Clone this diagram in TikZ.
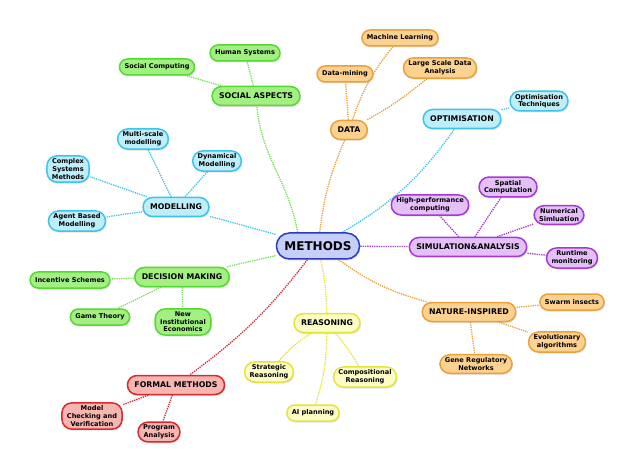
\documentclass[tikz,border=0pt]{standalone}
\usepackage{fontspec}
\setmainfont{DejaVu Sans}
\usepackage{xcolor}
\usetikzlibrary{shadows,backgrounds}

\definecolor{methfill}{HTML}{C6CEFA}
\definecolor{methline}{HTML}{2A3AC4}
\definecolor{grnfill}{HTML}{A2F082}
\definecolor{grnline}{HTML}{56D832}
\definecolor{cyanfill}{HTML}{BFEEFB}
\definecolor{cyanline}{HTML}{3CC4EA}
\definecolor{orgfill}{HTML}{FDD290}
\definecolor{orgline}{HTML}{E8A23A}
\definecolor{purfill}{HTML}{E4BFF8}
\definecolor{purline}{HTML}{A43AD6}
\definecolor{redfill}{HTML}{F8B6B2}
\definecolor{redline}{HTML}{D62A2E}
\definecolor{yelfill}{HTML}{FCFCC6}
\definecolor{yelline}{HTML}{E4E43C}

\begin{document}
\begin{tikzpicture}[x=1pt,y=-1pt,
    box/.style={rounded corners=8pt, line width=1.5pt, align=center,
      inner xsep=5pt, inner ysep=3pt, minimum height=16pt,
      drop shadow={opacity=0.22, shadow xshift=1pt, shadow yshift=-1.5pt}},
    leaf/.style={box, font=\fontsize{6.6}{7.6}\selectfont\bfseries},
    cat/.style={box, minimum height=19pt, inner xsep=7pt, rounded corners=9.5pt,
      font=\fontsize{7.8}{9}\selectfont\bfseries},
    greenish/.style={fill=grnfill, draw=grnline},
    cyanish/.style={fill=cyanfill, draw=cyanline},
    orangish/.style={fill=orgfill, draw=orgline},
    purplish/.style={fill=purfill, draw=purline},
    reddish/.style={fill=redfill, draw=redline},
    yellowish/.style={fill=yelfill, draw=yelline},
    link/.style={densely dotted, line width=1.3pt}]
    \useasboundingbox (0,0) rectangle (638,476);

    % Centre
    \node[box, fill=methfill, draw=methline, minimum height=26pt, inner xsep=8pt,
      rounded corners=13pt, font=\fontsize{12}{14}\selectfont\bfseries] (methods) at (318,246) {METHODS};

    % Branches
    \node[cat, greenish] (social) at (256,96) {SOCIAL ASPECTS};
    \node[cat, orangish] (data) at (349,130) {DATA};
    \node[cat, cyanish] (optim) at (462,119) {OPTIMISATION};
    \node[cat, cyanish] (model) at (176,207) {MODELLING};
    \node[cat, purplish] (simul) at (468,247) {SIMULATION\&ANALYSIS};
    \node[cat, greenish] (decis) at (182,277) {DECISION MAKING};
    \node[cat, orangish] (nature) at (469,312) {NATURE-INSPIRED};
    \node[cat, yellowish] (reason) at (327,323) {REASONING};
    \node[cat, reddish] (formal) at (176,385) {FORMAL METHODS};

    % Social aspects
    \node[leaf, greenish] (soccomp) at (157,67) {Social Computing};
    \node[leaf, greenish] (human) at (245,53) {Human Systems};
    % Data
    \node[leaf, orangish] (machine) at (400,38) {Machine Learning};
    \node[leaf, orangish] (mining) at (345,74) {Data-mining};
    \node[leaf, orangish, rounded corners=10pt] (large) at (440,68) {Large Scale Data\\Analysis};
    % Optimisation
    \node[leaf, cyanish, rounded corners=10pt] (opttech) at (539,101) {Optimisation\\Techniques};
    % Modelling
    \node[leaf, cyanish, rounded corners=10pt] (multi) at (143,139) {Multi-scale\\modelling};
    \node[leaf, cyanish, rounded corners=10pt] (complex) at (68,169) {Complex\\Systems\\Methods};
    \node[leaf, cyanish, rounded corners=10pt] (dynam) at (217,161) {Dynamical\\Modelling};
    \node[leaf, cyanish, rounded corners=10pt] (agent) at (77,221) {Agent Based\\Modelling};
    % Simulation
    \node[leaf, purplish, rounded corners=10pt] (hpc) at (430,205) {High-performance\\computing};
    \node[leaf, purplish, rounded corners=10pt] (spatial) at (508,187) {Spatial\\Computation};
    \node[leaf, purplish, rounded corners=10pt] (numer) at (559,215) {Numerical\\Simluation};
    \node[leaf, purplish, rounded corners=10pt] (runtime) at (572,258) {Runtime\\monitoring};
    % Decision making
    \node[leaf, greenish] (incent) at (70,280) {Incentive Schemes};
    \node[leaf, greenish] (game) at (100,317) {Game Theory};
    \node[leaf, greenish, rounded corners=10pt] (newinst) at (183,322) {New\\Institutional\\Economics};
    % Nature-inspired
    \node[leaf, orangish] (swarm) at (572,302) {Swarm insects};
    \node[leaf, orangish, rounded corners=10pt] (evol) at (557,342) {Evolutionary\\algorithms};
    \node[leaf, orangish, rounded corners=10pt] (gene) at (476,364) {Gene Regulatory\\Networks};
    % Reasoning
    \node[leaf, yellowish, rounded corners=10pt] (strat) at (269,372) {Strategic\\Reasoning};
    \node[leaf, yellowish, rounded corners=10pt] (compos) at (365,377) {Compositional\\Reasoning};
    \node[leaf, yellowish] (aiplan) at (313,413) {AI planning};
    % Formal methods
    \node[leaf, reddish, rounded corners=10pt] (checking) at (92,416) {Model\\Checking and\\Verification};
    \node[leaf, reddish, rounded corners=10pt] (program) at (159,432) {Program\\Analysis};

    \begin{scope}[on background layer]
    % Centre to branches
    \draw[link, grnline!80] (methods.north west) ++(22,0) to[out=100, in=-85] (social);
    \draw[link, orgline] (methods) to[bend left=8] (data);
    \draw[link, cyanline] (methods) to[bend right=12] (optim);
    \draw[link, cyanline] (methods) -- (model);
    \draw[link, purline] (methods) -- (simul);
    \draw[link, grnline!80] (methods) -- (decis);
    \draw[link, orgline] (methods) to[bend right=10] (nature);
    \draw[link, yelline] (methods) to[bend left=5] (reason);
    \draw[link, redline] (methods) to[bend left=8] (formal);
    % Branches to leaves
    \draw[link, grnline!80] (social) -- (soccomp);
    \draw[link, grnline!80] (social) -- (human);
    \draw[link, orgline] (data) to[bend left=10] (machine);
    \draw[link, orgline] (data) -- (mining);
    \draw[link, orgline] (data) to[bend right=5] (large);
    \draw[link, cyanline] (optim) -- (opttech);
    \draw[link, cyanline] (model) -- (multi);
    \draw[link, cyanline] (model) -- (complex);
    \draw[link, cyanline] (model) -- (dynam);
    \draw[link, cyanline] (model) -- (agent);
    \draw[link, purline] (simul) -- (hpc);
    \draw[link, purline] (simul) -- (spatial);
    \draw[link, purline] (simul) -- (numer);
    \draw[link, purline] (simul) -- (runtime);
    \draw[link, grnline!80] (decis) -- (incent);
    \draw[link, grnline!80] (decis) -- (game);
    \draw[link, grnline!80] (decis) -- (newinst);
    \draw[link, orgline] (nature) -- (swarm);
    \draw[link, orgline] (nature) -- (evol);
    \draw[link, orgline] (nature) -- (gene);
    \draw[link, yelline] (reason) to[bend right=8] (strat);
    \draw[link, yelline] (reason) to[bend left=5] (compos);
    \draw[link, yelline] (reason) to[bend left=8] (aiplan);
    \draw[link, redline] (formal) -- (checking);
    \draw[link, redline] (formal) -- (program);
    \end{scope}
\end{tikzpicture}
\end{document}
